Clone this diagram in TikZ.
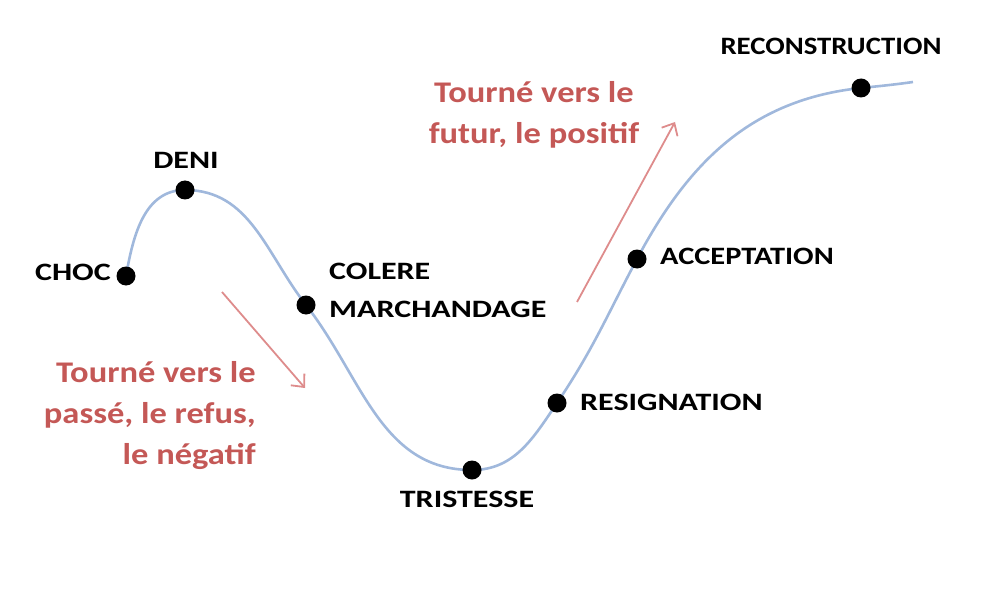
\documentclass[tikz,border=0pt]{standalone}
\usepackage{fontspec}
\setmainfont{Carlito}[FakeStretch=1.28]
\newfontfamily\redfont{Carlito}[FakeStretch=1.15]
\usetikzlibrary{arrows.meta}
\definecolor{curveblue}{RGB}{160,184,220}
\definecolor{textred}{RGB}{196,88,86}
\definecolor{arrowred}{RGB}{222,140,140}
\begin{document}
\begin{tikzpicture}[x=1pt,y=1pt,
  dot/.style={circle,fill=black,inner sep=0pt,minimum size=19pt},
  lbl/.style={font=\bfseries\fontsize{25}{38}\selectfont,inner sep=0pt,text=black},
  redlbl/.style={font=\redfont\bfseries\fontsize{30}{41}\selectfont,inner sep=0pt,text=textred},
  curve/.style={draw=curveblue,line width=2.6pt},
  trend/.style={draw=arrowred,line width=1.8pt,-{Straight Barb[length=10pt,width=18pt,line width=1.8pt]}}]
\useasboundingbox (0,0) rectangle (1000,614);
% points on the curve
\coordinate (choc) at (126,338);
\coordinate (deni) at (185,424);
\coordinate (colere) at (306,309);
\coordinate (tris) at (472,144);
\coordinate (resig) at (557,211);
\coordinate (accept) at (637,355);
\coordinate (recon) at (861,526);
\coordinate (endc) at (913,532);
\path[curve] (choc) to[out=80,in=180] (deni)
  to[out=0,in=128] (colere)
  to[out=-52,in=180] (tris)
  to[out=0,in=236] (resig)
  to[out=56,in=242] (accept)
  to[out=62,in=186] (recon)
  to[out=6,in=188] (endc);
% dots
\node[dot] (dchoc) at (choc) {};
\node[dot] (ddeni) at (deni) {};
\node[dot] (dcolere) at (colere) {};
\node[dot] (dtris) at (tris) {};
\node[dot] (dresig) at (resig) {};
\node[dot] (daccept) at (accept) {};
\node[dot] (drecon) at (recon) {};
% labels
\node[lbl,anchor=east] (tchoc) at (111,342) {CHOC};
\node[lbl] (tdeni) at (186,454) {DENI};
\node[lbl,anchor=west,align=left] (tcolere) at (329,324) {COLERE\\MARCHANDAGE};
\node[lbl] (ttris) at (467,115) {TRISTESSE};
\node[lbl,anchor=west] (tresig) at (580,212) {RESIGNATION};
\node[lbl,anchor=west] (taccept) at (660,358) {\scalebox{0.95}[1]{ACCEPTATION}};
\node[lbl] (trecon) at (831,568) {\scalebox{0.9}[1]{RECONSTRUCTION}};
% red annotations
\node[redlbl,align=right,anchor=east] (tneg) at (256,198) {Tourné vers le\\passé, le refus,\\le négatif};
\node[redlbl,align=center] (tpos) at (534,499) {Tourné vers le\\futur, le positif};
\coordinate (n1) at (222,322);
\coordinate (n2) at (305,226);
\coordinate (p1) at (577,312);
\coordinate (p2) at (675,492);
\draw[trend] (n1) -- (n2);
\draw[trend] (p1) -- (p2);
\end{tikzpicture}
\end{document}
